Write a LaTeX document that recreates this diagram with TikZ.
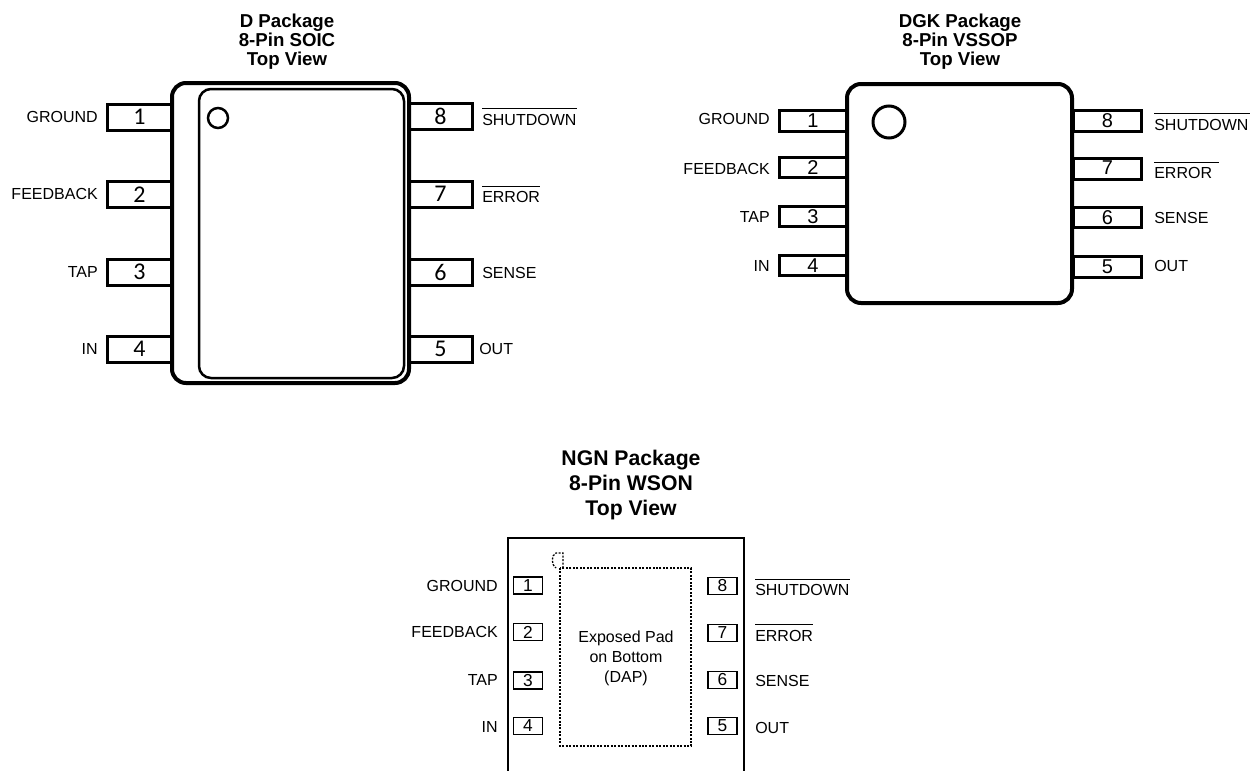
\documentclass[tikz,border=0pt]{standalone}
\usepackage{fontspec}
\setmainfont{Liberation Sans}
\newfontfamily\calib{Carlito}
\tikzset{
  x=0.75pt,y=-0.75pt,
  px/.style={line width=#1*0.75pt},
  lab/.style={inner sep=0pt,font=\fontsize{12}{14}\selectfont},
  labr/.style={lab,anchor=east},
  labl/.style={lab,anchor=west},
  ttl/.style={inner sep=0pt,align=center,font=\fontsize{14}{14.2}\selectfont\bfseries},
  ttlb/.style={inner sep=0pt,align=center,font=\fontsize{15.9}{18.4}\selectfont\bfseries},
  pinD/.style={draw,px=3,inner sep=0pt,minimum width=48pt,minimum height=19.5pt,font=\calib\fontsize{18}{18}\selectfont},
  pinG/.style={draw,px=3,inner sep=0pt,minimum width=51pt,minimum height=15.5pt,font=\fontsize{15}{15}\selectfont},
  pinN/.style={draw,px=1.5,inner sep=0pt,minimum width=22pt,minimum height=13pt,font=\fontsize{13}{13}\selectfont},
  body/.style={draw,px=4,rounded corners=10.5pt,fill=white},
  bar/.style={px=1},
  pad/.style={px=1.3,dash pattern=on 1.5pt off 1.1pt},
}
\begin{document}
\begin{tikzpicture}
\useasboundingbox (0,0) rectangle (1250,771);
% D package
\node[ttl] (dt) at (287,42) {D Package\\8-Pin SOIC\\Top View};
\foreach \n/\y in {1/117,2/194.5,3/272,4/349}
  \node[pinD] (dl\n) at (139.5,\y) {\n};
\foreach \n/\y in {8/116,7/194,6/272,5/349}
  \node[pinD] (dr\n) at (440.5,\y) {\n};
\draw[body] (172,83) rectangle (409,383);
\draw[px=2.5,rounded corners=9pt] (199,89) rectangle (404,378);
\node[draw,circle,px=2.5,minimum size=15pt,inner sep=0pt] (dc) at (218,118) {};
\node[labr] (d1) at (98,117) {GROUND};
\node[labr] (d2) at (98,194) {FEEDBACK};
\node[labr] (d3) at (98,272) {TAP};
\node[labr] (d4) at (98,349) {IN};
\node[labl] (d8) at (482,120) {SHUTDOWN};
\node[labl] (d7) at (482,197) {ERROR};
\node[labl] (d6) at (482,273) {SENSE};
\node[labl] (d5) at (479,349) {OUT};
\draw[bar] ([yshift=4.5pt]d8.north west) -- ([yshift=4.5pt]d8.north east);
\draw[bar] ([yshift=3.75pt]d7.north west) -- ([yshift=3.75pt]d7.north east);
% DGK package
\node[ttl] (gt) at (960,42) {DGK Package\\8-Pin VSSOP\\Top View};
\foreach \n/\y/\r in {1/121/0,2/167.5/0,3/216.5/0,4/265.5/0}
  \node[pinG] (gl\n) at (813,\y) {\raisebox{\r pt}{\n}};
\foreach \n/\y/\r in {8/121/0,7/169/1.5,6/217.5/0,5/267/0}
  \node[pinG] (gr\n) at (1107.5,\y) {\raisebox{\r pt}{\n}};
\draw[body] (847,84) rectangle (1072,303);
\node[draw,circle,px=3,minimum size=24pt,inner sep=0pt] (gc) at (889,122) {};
\node[labr] (g1) at (770,119) {GROUND};
\node[labr] (g2) at (770,169) {FEEDBACK};
\node[labr] (g3) at (770,217) {TAP};
\node[labr] (g4) at (770,266) {IN};
\node[labl] (g8) at (1154,125) {SHUTDOWN};
\node[labl] (g7) at (1154,173) {ERROR};
\node[labl] (g6) at (1154,218) {SENSE};
\node[labl] (g5) at (1154,266) {OUT};
\draw[bar] ([yshift=4.5pt]g8.north west) -- ([yshift=4.5pt,xshift=2pt]g8.north east);
\draw[bar] ([yshift=3.75pt]g7.north west) -- ([yshift=3.75pt,xshift=5pt]g7.north east);
% NGN package
\node[ttlb] (nt) at (631,485) {NGN Package\\8-Pin WSON\\Top View};
\draw[px=2.5] (508,771) -- (508,538) -- (744,538) -- (744,771);
\foreach \n/\y in {1/585.5,2/632,3/680.5,4/726}
  \node[pinN] (nl\n) at (528,\y) {\n};
\foreach \n/\y in {8/586,7/633,6/680,5/726}
  \node[pinN] (nr\n) at (722.5,\y) {\n};
\draw[pad] (560,568) rectangle (691,746);
\draw[pad] (563,568) -- (563,553) -- (556,553) .. controls (551,555) and (551,565) .. (556,568);
\node[inner sep=0pt,align=center,font=\fontsize{12}{15}\selectfont] (pad) at (626,658) {Exposed Pad\\on Bottom\\(DAP)};
\node[labr] (n1) at (498,586) {GROUND};
\node[labr] (n2) at (498,632) {FEEDBACK};
\node[labr] (n3) at (498,680) {TAP};
\node[labr] (n4) at (498,727) {IN};
\node[labl] (n8) at (755,590) {SHUTDOWN};
\node[labl] (n7) at (755,636) {ERROR};
\node[labl] (n6) at (755,681) {SENSE};
\node[labl] (n5) at (755,728) {OUT};
\draw[bar] ([yshift=3.75pt]n8.north west) -- ([yshift=3.75pt]n8.north east);
\draw[bar] ([yshift=4.5pt]n7.north west) -- ([yshift=4.5pt]n7.north east);
\end{tikzpicture}
\end{document}
